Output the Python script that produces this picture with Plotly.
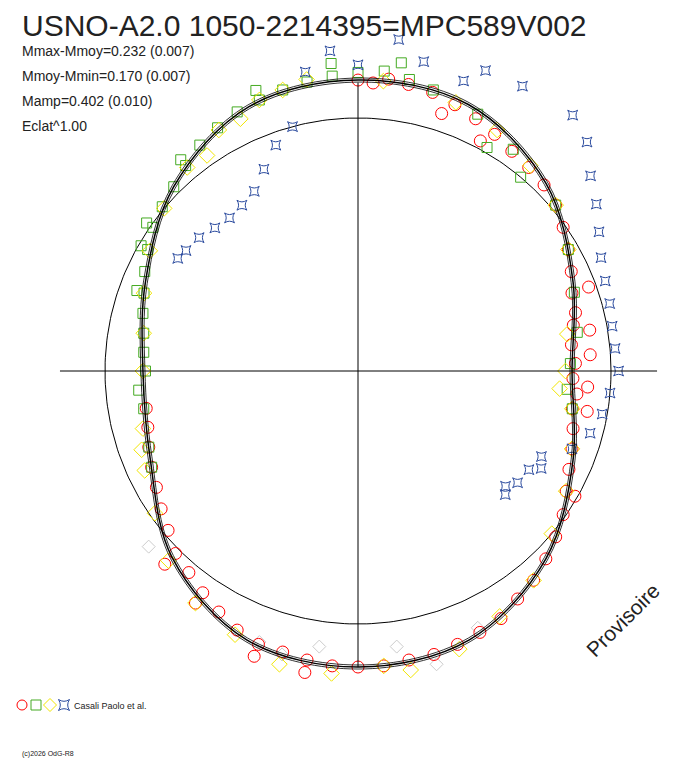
import numpy as np
import plotly.graph_objects as go

# phase angle (deg, clockwise from top) and radius (reference circle = 1)
curve_ang = [0, 22.5, 45, 67.5, 90, 112.5, 135, 157.5, 180, 202.5, 225, 247.5, 270, 292.5, 315, 337.5, 360]
curve_r = [1.15, 1.14, 1.05, 0.92, 0.846, 0.92, 1.05, 1.15, 1.17, 1.15, 1.04, 0.89, 0.85, 0.91, 1.03, 1.13, 1.15]

red_ang = [0, 3, 6, 10, 15, 20, 25, 30, 35, 40, 45, 50, 55, 60, 65, 70, 75, 78, 83, 88, 92, 96, 100, 105, 110,
           115, 120, 125, 130, 135, 140, 145, 150, 155, 160, 165, 170, 175, 180, 185, 190, 195, 200, 205, 210,
           215, 220, 225, 230, 235, 240, 245, 250, 255, 260, 70, 80, 100, 120, 200, 190, 215, 225, 86, 94, 18, 28]
red_r = [1.15, 1.14, 1.16, 1.15, 1.14, 1.12, 1.1, 1.08, 1.06, 1.05, 1.04, 1.02, 0.99, 0.96, 0.93, 0.9, 0.89,
         0.87, 0.85, 0.86, 0.85, 0.87, 0.86, 0.88, 0.9, 0.92, 0.95, 0.99, 1.02, 1.05, 1.08, 1.1, 1.13, 1.14,
         1.15, 1.16, 1.16, 1.17, 1.17, 1.17, 1.16, 1.15, 1.15, 1.13, 1.1, 1.07, 1.04, 1.02, 0.98, 0.95, 0.92,
         0.9, 0.88, 0.86, 0.85, 0.97, 0.93, 0.92, 0.99, 1.2, 1.21, 1.12, 1.08, 0.92, 0.91, 1.07, 1.03]

green_ang = [270, 275, 280, 285, 290, 295, 300, 305, 310, 315, 320, 325, 330, 335, 340, 345, 350, 355, 0, 5,
             10, 15, 25, 35, 50, 60, 70, 80, 88, 95, 100, 260, 250, 245, 305, 320, 340, 355, 8, 290, 300, 265,
             40, 30]
green_r = [0.84, 0.85, 0.86, 0.88, 0.9, 0.93, 0.96, 0.99, 1.01, 1.03, 1.06, 1.09, 1.11, 1.13, 1.14, 1.15,
           1.16, 1.17, 1.18, 1.19, 1.17, 1.15, 1.12, 1.07, 1.02, 0.96, 0.91, 0.88, 0.84, 0.83, 0.86, 0.86,
           0.88, 0.9, 1.02, 1.09, 1.18, 1.22, 1.23, 0.93, 0.99, 0.87, 1.0, 1.02]

yellow_ang = [330, 320, 310, 300, 290, 280, 270, 340, 350, 345, 5, 20, 40, 60, 80, 90, 95, 100, 110, 120,
              130, 140, 150, 160, 170, 175, 185, 195, 205, 215, 225, 235, 245, 250, 255, 325, 335, 30, 50]
yellow_r = [1.1, 1.05, 1.0, 0.95, 0.9, 0.86, 0.85, 1.14, 1.17, 1.15, 1.15, 1.13, 1.06, 0.96, 0.84, 0.82,
            0.8, 0.86, 0.9, 0.95, 1.0, 1.08, 1.12, 1.17, 1.2, 1.17, 1.2, 1.2, 1.15, 1.12, 1.06, 0.98, 0.93,
            0.91, 0.88, 1.04, 1.1, 1.1, 1.02]

gray_ang = [165, 172, 188, 195, 200, 155, 230]
gray_r = [1.2, 1.1, 1.1, 1.16, 1.14, 1.12, 1.08]

blue_ang = [30, 40, 45, 50, 55, 60, 65, 70, 75, 80, 85, 90, 95, 100, 105, 110, 115, 118, 120, 125, 128, 130,
            350, 355, 0, 7, 12, 20, 23, 302, 305, 310, 315, 320, 325, 330, 335, 340, 345]
blue_r = [1.3, 1.32, 1.28, 1.2, 1.15, 1.1, 1.06, 1.04, 1.03, 1.02, 1.02, 1.03, 1.0, 0.98, 0.95, 0.9, 0.8,
          0.82, 0.78, 0.77, 0.74, 0.76, 1.2, 1.27, 1.21, 1.32, 1.25, 1.22, 1.29, 0.84, 0.83, 0.82, 0.8, 0.79,
          0.8, 0.82, 0.88, 0.95, 1.0]

# page has an 8px body margin, so reference pixel p maps to p - 8
W, H, CX, CY, S = 672, 752, 350, 363, 253


def xy(ang, r):
    a = np.radians(ang)
    r = np.array(r)
    return r * np.sin(a), r * np.cos(a)


fig = go.Figure()
t = np.linspace(0, 2 * np.pi, 361)
fig.add_trace(go.Scatter(x=np.cos(t), y=np.sin(t), mode="lines", line=dict(color="black", width=1)))

for ang, r, sym, col, size in [
    (gray_ang, gray_r, "diamond-open", "#cccccc", 10),
    (red_ang, red_r, "circle-open", "red", 12),
    (green_ang, green_r, "square-open", "#44aa22", 10),
    (yellow_ang, yellow_r, "diamond-open", "#f2e600", 12),
    (blue_ang, blue_r, "star-square-open", "#2a4a9e", 9),
]:
    x, y = xy(ang, r)
    fig.add_trace(go.Scatter(x=x, y=y, mode="markers",
                             marker=dict(symbol=sym, color=col, size=size, line=dict(width=1, color=col))))

for dr, w in [(0, 1.5), (0.008, 0.8), (-0.008, 0.8)]:
    x, y = xy(curve_ang, np.array(curve_r) + dr)
    fig.add_trace(go.Scatter(x=x, y=y, mode="lines", line=dict(color="black", width=w, shape="spline")))

fig.add_shape(type="line", x0=-1.178, x1=1.182, y0=0, y1=0, line=dict(color="black", width=1))
fig.add_shape(type="line", x0=0, x1=0, y0=1.14, y1=-1.17, line=dict(color="black", width=1))

ann = [
    ("USNO-A2.0 1050-2214395=MPC589V002", 20, 25, 30),
    ("Mmax-Mmoy=0.232 (0.007)", 20, 51, 14),
    ("Mmoy-Mmin=0.170 (0.007)", 20, 76, 14),
    ("Mamp=0.402 (0.010)", 20, 101, 14),
    ("Eclat^1.00", 20, 126, 14),
    ("Casali Paolo et al.", 72, 706, 9),
]
for txt, px, py, fs in ann:
    fig.add_annotation(text=txt, x=(px - 8) / W, y=1 - (py - 8) / H, xref="paper", yref="paper",
                       xanchor="left", yanchor="middle", showarrow=False,
                       font=dict(family="Arial", size=fs, color="#222222"))
fig.add_annotation(text="(c)2026 OdG-R8", x=12 / W, y=0, xref="paper", yref="paper",
                   xanchor="left", yanchor="bottom", showarrow=False,
                   font=dict(family="Arial", size=7, color="#222222"))
fig.add_annotation(text="Provisoire", x=(622 - 8) / W, y=1 - (620 - 8) / H, xref="paper", yref="paper",
                   xanchor="center", yanchor="middle", showarrow=False, textangle=-45,
                   font=dict(family="Arial", size=21, color="#222222"))

for i, (sym, col) in enumerate([("circle-open", "red"), ("square-open", "#44aa22"),
                                ("diamond-open", "#f2e600"), ("star-square-open", "#2a4a9e")]):
    fig.add_trace(go.Scatter(x=[(22 + 14 * i - 358) / S], y=[(371 - 705) / S], mode="markers",
                             marker=dict(symbol=sym, color=col, size=10, line=dict(width=1, color=col))))

fig.update_layout(
    width=W, height=H, autosize=False, showlegend=False,
    margin=dict(l=0, r=0, t=0, b=0), paper_bgcolor="white", plot_bgcolor="white",
    xaxis=dict(range=[-CX / S, (W - CX) / S], visible=False, fixedrange=True),
    yaxis=dict(range=[-(H - CY) / S, CY / S], visible=False, fixedrange=True),
)
fig.write_html("out.html")
